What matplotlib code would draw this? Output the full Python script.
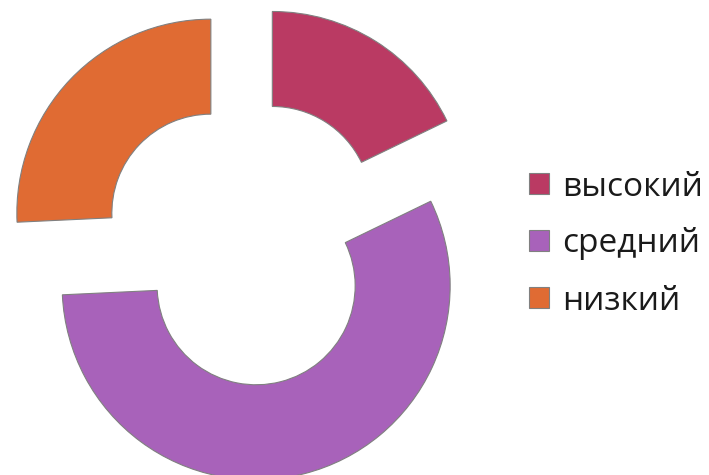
import matplotlib
matplotlib.use('Agg')
import matplotlib.pyplot as plt

labels = ['высокий', 'средний', 'низкий']
values = [18, 57, 26]
colors = ['#BA3A63', '#A862BA', '#E06B33']
explode = [49, 40, 49]

plt.rcParams['font.family'] = ['Open Sans', 'DejaVu Sans']

fig = plt.figure(figsize=(7.09, 4.75), dpi=100)
ax = fig.add_axes([0, 0, 1, 1])

# pixel-like coordinates: figure is 709 x 475 (explode is absolute here)
wedges, _ = ax.pie(values, colors=colors, startangle=90, counterclock=False,
                   radius=194, center=(246.3, 475 - 247),
                   explode=explode,
                   wedgeprops=dict(width=95, edgecolor='#808080', linewidth=0.8))
ax.set_xlim(0, 709)
ax.set_ylim(0, 475)
ax.set_aspect('auto')
ax.axis('off')

leg = ax.legend(wedges, labels, loc='center left',
                bbox_to_anchor=(529 / 709, 1 - 244 / 475),
                frameon=False, fontsize=24,
                handlelength=0.6, handleheight=0.6,
                handletextpad=0.4, labelspacing=0.72, borderpad=0,
                borderaxespad=0)
for t in leg.get_texts():
    t.set_color('#1a1a1a')

fig.savefig('out.png', dpi=100)
